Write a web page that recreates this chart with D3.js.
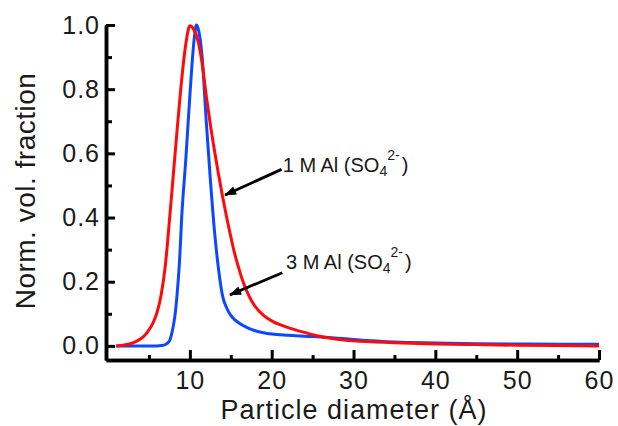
<!DOCTYPE html>
<html>
<head>
<meta charset="utf-8">
<script src="https://cdn.jsdelivr.net/npm/d3@7"></script>
<style>
  html, body { margin: 0; padding: 0; background: #fff; }
  svg { display: block; font-family: "Liberation Sans", Arial, Helvetica, sans-serif; }
</style>
</head>
<body>
<div id="chart"></div>
<script>
// Particle size distributions (diameter in Å, normalised volume fraction)
const diam1M = [1, 2, 3, 4, 4.5, 5, 5.5, 6, 6.5, 7, 7.5, 8, 8.5, 9, 9.5, 10, 10.5, 11, 11.5, 12, 12.5,
  13, 13.5, 14, 14.5, 15, 15.5, 16, 16.5, 17, 17.5, 18, 19, 20, 21, 22, 23, 24, 25, 26, 28, 30, 35, 40, 45, 50, 55, 60];
const frac1M = [0.0, 0.003, 0.009, 0.022, 0.033, 0.05, 0.072, 0.105, 0.16, 0.25, 0.39, 0.54, 0.69, 0.83, 0.94, 0.998, 0.985, 0.95, 0.88, 0.78, 0.69,
  0.61, 0.535, 0.465, 0.40, 0.34, 0.285, 0.24, 0.2, 0.168, 0.142, 0.122, 0.095, 0.078, 0.066, 0.057, 0.049, 0.042, 0.035, 0.029, 0.021, 0.016, 0.01, 0.006, 0.004, 0.002, 0.001, 0.0];

const diam3M = [1, 6, 6.5, 7, 7.5, 7.75, 8, 8.25, 8.5, 8.75, 9, 9.5, 10, 10.5, 10.8, 11, 11.5, 12, 12.5, 13,
  13.5, 14, 14.5, 15, 15.5, 16, 17, 18, 19, 20, 22, 24, 26, 28, 30, 35, 40, 45, 50, 55, 60];
const frac3M = [0.0, 0.0, 0.001, 0.004, 0.015, 0.035, 0.065, 0.11, 0.18, 0.27, 0.40, 0.58, 0.78, 0.95, 1.0, 0.99, 0.9, 0.70, 0.52, 0.36,
  0.24, 0.155, 0.118, 0.095, 0.081, 0.071, 0.057, 0.047, 0.041, 0.037, 0.033, 0.03, 0.028, 0.024, 0.02, 0.012, 0.009, 0.007, 0.006, 0.005, 0.005];

const xMajor = [10, 20, 30, 40, 50, 60];
const xMinor = [5, 15, 25, 35, 45, 55];
const yMajor = [0, 0.2, 0.4, 0.6, 0.8, 1.0];
const yMinor = [0.1, 0.3, 0.5, 0.7, 0.9];

const width = 618, height = 426;
const font = '"Liberation Sans", Arial, Helvetica, sans-serif';

const svg = d3.select('#chart').append('svg')
  .attr('width', width).attr('height', height);

const x = d3.scaleLinear().domain([-0.25, 60]).range([106, 599]);
const y = d3.scaleLinear().domain([-0.044, 1]).range([360, 25]);

// curves (blue below red)
const line = d3.line().x(d => x(d[0])).y(d => y(d[1])).curve(d3.curveMonotoneX);
const series = [
  { d: diam3M, v: frac3M, color: '#0d47ff' },
  { d: diam1M, v: frac1M, color: '#ff0a0a' },
];
series.forEach(s => {
  svg.append('path')
    .datum(s.d.map((dd, i) => [dd, s.v[i]]))
    .attr('fill', 'none')
    .attr('stroke', s.color)
    .attr('stroke-width', 3)
    .attr('stroke-linejoin', 'round')
    .attr('d', line);
});

// axes, ticks pointing inward
function styleAxis(g) {
  g.select('.domain').attr('stroke', '#000').attr('stroke-width', 3.5);
  g.selectAll('.tick line').attr('stroke', '#000').attr('stroke-width', 3);
  g.selectAll('.tick text').attr('fill', '#1a1a1a').attr('font-size', 25)
    .attr('letter-spacing', 1).attr('font-family', font);
}

svg.append('g').attr('transform', 'translate(0,360)')
  .call(d3.axisBottom(x).tickValues(xMinor).tickFormat('').tickSizeInner(-5).tickSizeOuter(0))
  .call(styleAxis);
svg.append('g').attr('transform', 'translate(0,360)')
  .call(d3.axisBottom(x).tickValues(xMajor).tickFormat(d3.format('d')).tickSizeInner(-10).tickSizeOuter(0).tickPadding(11))
  .call(styleAxis);

svg.append('g').attr('transform', 'translate(106,0)')
  .call(d3.axisLeft(y).tickValues(yMinor).tickFormat('').tickSizeInner(-6).tickSizeOuter(0))
  .call(styleAxis);
svg.append('g').attr('transform', 'translate(106,0)')
  .call(d3.axisLeft(y).tickValues(yMajor).tickFormat(d3.format('.1f')).tickSizeInner(-9).tickSizeOuter(0).tickPadding(6))
  .call(styleAxis);

// axis titles
svg.append('text')
  .attr('x', 354).attr('y', 419)
  .attr('text-anchor', 'middle')
  .attr('font-size', 27).attr('letter-spacing', 1)
  .attr('font-family', font).attr('fill', '#1a1a1a')
  .text('Particle diameter (Å)');

svg.append('text')
  .attr('transform', 'translate(35,191) rotate(-90)')
  .attr('text-anchor', 'middle')
  .attr('font-size', 28).attr('letter-spacing', 0.5)
  .attr('font-family', font).attr('fill', '#1a1a1a')
  .text('Norm. vol. fraction');

// annotations with arrows
svg.append('defs').append('marker')
  .attr('id', 'arrow').attr('viewBox', '0 -5 12 10').attr('refX', 11).attr('refY', 0)
  .attr('markerUnits', 'userSpaceOnUse').attr('markerWidth', 13).attr('markerHeight', 10)
  .attr('orient', 'auto')
  .append('path').attr('d', 'M0,-4.5L12,0L0,4.5Z').attr('fill', '#000');

const notes = [
  { label: '1', from: [21.2, 0.55], to: [14.3, 0.47], text: [21.35, 0.543] },
  { label: '3', from: [21.3, 0.228], to: [14.9, 0.159], text: [21.75, 0.24] },
];
notes.forEach(n => {
  svg.append('line')
    .attr('x1', x(n.from[0])).attr('y1', y(n.from[1]))
    .attr('x2', x(n.to[0])).attr('y2', y(n.to[1]))
    .attr('stroke', '#000').attr('stroke-width', 2.8)
    .attr('marker-end', 'url(#arrow)');

  const t = svg.append('text')
    .attr('x', x(n.text[0])).attr('y', y(n.text[1]))
    .attr('font-size', 20).attr('font-family', font).attr('fill', '#1a1a1a');
  t.append('tspan').text(n.label + ' M Al (SO');
  t.append('tspan').attr('font-size', 14).attr('dy', 4).text('4');
  t.append('tspan').attr('font-size', 14).attr('dy', -16).text('2-');
  t.append('tspan').attr('dy', 12).attr('dx', 2).text(')');
});
</script>
</body>
</html>
